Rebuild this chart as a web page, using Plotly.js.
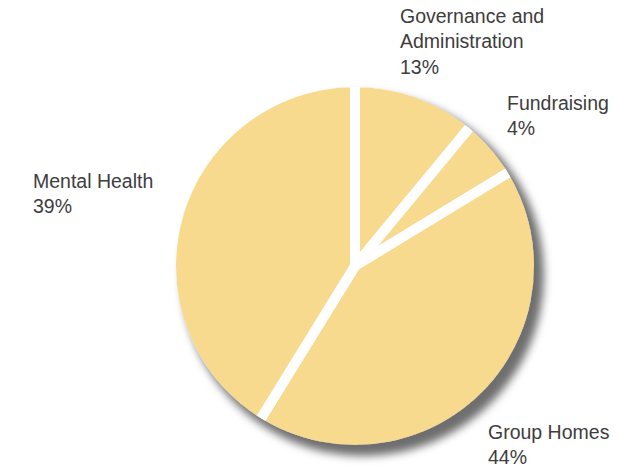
<!DOCTYPE html>
<html>
<head>
<meta charset="utf-8">
<script src="https://cdn.plot.ly/plotly-3.0.1.min.js"></script>
<style>
html,body{margin:0;padding:0;background:#fff;}
#chart{width:644px;height:468px;}
</style>
</head>
<body>
<div id="chart"></div>
<script>
// Slice order: clockwise from 12 o'clock
const categories = ["Governance and<br>Administration", "Fundraising", "Group Homes", "Mental Health"];
// drawn slice shares
const shares = [11.0, 5.3, 42.5, 41.2];
// printed percentages in the labels
const labelPercents = ["13%", "4%", "44%", "39%"];

const W = 644, H = 468;
const cx = 355, cy = 266, R = 184;        // main pie (path radius)
const GAP = 10;                            // white gap width
const sx = 363, sy = 275, SR = 181;       // shadow pie

function dom(x, y, r) {
  return {x: [(x - r) / W, (x + r) / W], y: [(H - y - r) / H, (H - y + r) / H]};
}

const shadow = {
  type: 'pie', values: [1], labels: ['shadow'], sort: false,
  marker: {colors: ['#6e6e6e'], line: {width: 0}},
  textinfo: 'none', hoverinfo: 'skip', showlegend: false,
  domain: dom(sx, sy, SR)
};

const main = {
  type: 'pie', values: shares, labels: categories, sort: false,
  direction: 'clockwise', rotation: 0,
  marker: {colors: categories.map(() => '#f8da8e'), line: {color: '#ffffff', width: GAP}},
  textinfo: 'none', hoverinfo: 'skip', showlegend: false,
  domain: dom(cx, cy, R)
};

// label placements (paper pixels, top-left of text block)
const labelPos = [[398, 3], [505, 90], [486, 419], [31, 168]];

const annotations = categories.map((c, i) => ({
  text: c + '<br>' + labelPercents[i],
  xref: 'paper', yref: 'paper',
  x: labelPos[i][0] / W, y: 1 - labelPos[i][1] / H,
  xanchor: 'left', yanchor: 'top', align: 'left', showarrow: false,
  font: {family: 'Liberation Sans, Arial, sans-serif', size: 19.5, color: '#3d3d3d'}
}));

const layout = {
  width: W, height: H,
  margin: {l: 0, r: 0, t: 0, b: 0},
  paper_bgcolor: '#ffffff',
  showlegend: false,
  annotations: annotations
};

Plotly.newPlot('chart', [shadow, main], layout, {displayModeBar: false, staticPlot: true}).then(() => {
  const traces = document.querySelectorAll('.pielayer .trace');
  if (traces.length < 2) return;
  traces[0].style.filter = 'blur(4px)';
  // clip away the outer half of the white outline so the shadow touches the fill
  const NS = 'http://www.w3.org/2000/svg';
  const svg = document.querySelector('#chart .main-svg');
  let defs = svg.querySelector('defs');
  if (!defs) { defs = document.createElementNS(NS, 'defs'); svg.insertBefore(defs, svg.firstChild); }
  const cp = document.createElementNS(NS, 'clipPath');
  cp.setAttribute('id', 'pieOuterClip');
  cp.setAttribute('clipPathUnits', 'userSpaceOnUse');
  const c = document.createElementNS(NS, 'circle');
  c.setAttribute('cx', cx); c.setAttribute('cy', cy); c.setAttribute('r', R - GAP / 2);
  cp.appendChild(c); defs.appendChild(cp);
  traces[1].setAttribute('clip-path', 'url(#pieOuterClip)');
});
</script>
</body>
</html>
